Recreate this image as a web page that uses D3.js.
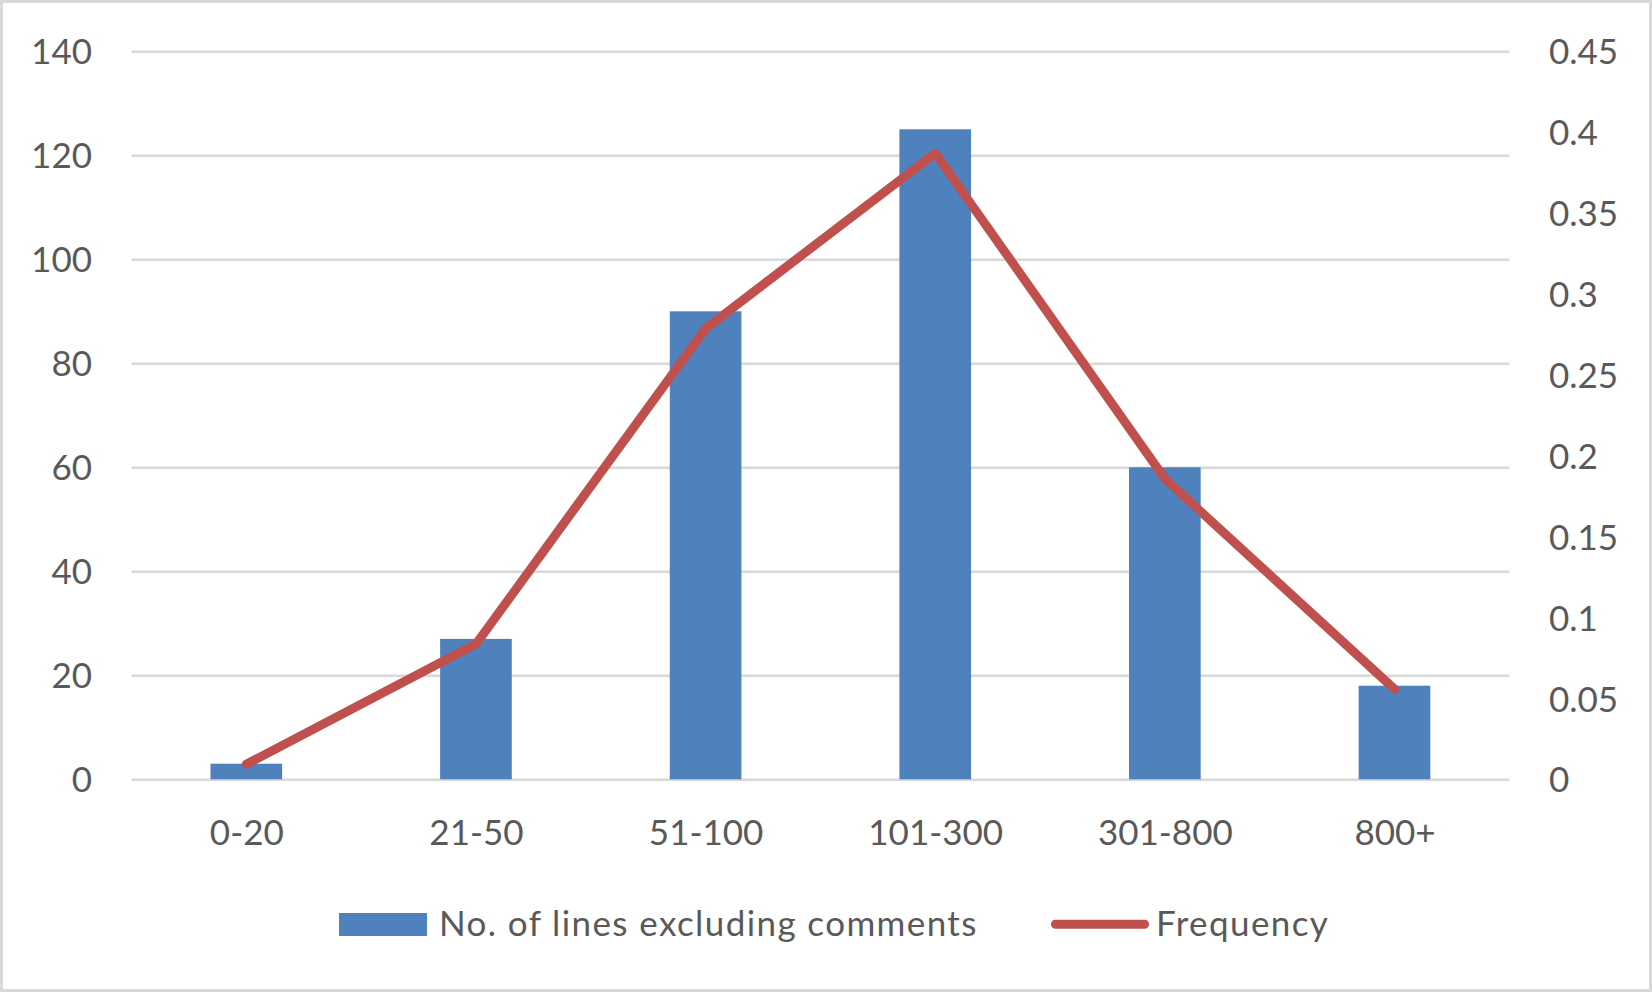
<!DOCTYPE html>
<html>
<head>
<meta charset="utf-8">
<script src="https://cdn.jsdelivr.net/npm/d3@7"></script>
<style>
  html, body { margin: 0; padding: 0; background: #fff; }
  svg { display: block; }
  text { font-family: Lato, "Open Sans", sans-serif; fill: #595959; }
</style>
</head>
<body>
<svg id="chart" width="1652" height="992"></svg>
<script>
const categories = ["0-20", "21-50", "51-100", "101-300", "301-800", "800+"];
const linesExcludingComments = [3, 27, 90, 125, 60, 18];
const frequency = [0.0093, 0.0836, 0.2786, 0.387, 0.1858, 0.0557];
const leftTicks = [0, 20, 40, 60, 80, 100, 120, 140];
const rightTicks = [0, 0.05, 0.1, 0.15, 0.2, 0.25, 0.3, 0.35, 0.4, 0.45];
const seriesNames = ["No. of lines excluding comments", "Frequency"];

const W = 1652, H = 992;
const plot = { left: 131.5, right: 1509.3, top: 51.3, bottom: 779.3 };
const barColor = "#4f81bd", lineColor = "#c0504d", gridColor = "#d9d9d9";
const fontSize = 35;

const svg = d3.select("#chart");

// chart border
svg.append("rect")
  .attr("x", 1.5).attr("y", 1.5)
  .attr("width", W - 3).attr("height", H - 3)
  .attr("fill", "#fff").attr("stroke", gridColor).attr("stroke-width", 3);

const x = d3.scaleBand()
  .domain(categories)
  .range([plot.left, plot.right])
  .paddingInner(0.688)
  .paddingOuter(0.344);

const xCenter = d3.scalePoint()
  .domain(categories)
  .range([plot.left, plot.right])
  .padding(0.5);

const yL = d3.scaleLinear().domain([0, 140]).range([plot.bottom, plot.top]);
const yR = d3.scaleLinear().domain([0, 0.45]).range([plot.bottom, plot.top]);

// gridlines via left axis
const gridG = svg.append("g").attr("transform", `translate(${plot.left},0)`)
  .call(d3.axisLeft(yL).tickValues(leftTicks).tickSize(-(plot.right - plot.left)).tickFormat(""));
gridG.select(".domain").remove();
gridG.selectAll("line").attr("stroke", gridColor).attr("stroke-width", 2.6);

// left axis labels
const leftAxis = svg.append("g").attr("transform", `translate(92,0)`)
  .call(d3.axisLeft(yL).tickValues(leftTicks).tickSize(0).tickPadding(0));
leftAxis.select(".domain").remove();
leftAxis.selectAll("text")
  .attr("font-size", fontSize).attr("font-family", "Lato, 'Open Sans', sans-serif")
  .attr("fill", "#595959").attr("dy", "0.36em");

// right axis labels
const rightAxis = svg.append("g").attr("transform", `translate(1549,0)`)
  .call(d3.axisRight(yR).tickValues(rightTicks).tickSize(0).tickPadding(0)
    .tickFormat(d => String(+d.toFixed(2))));
rightAxis.select(".domain").remove();
rightAxis.selectAll("text")
  .attr("font-size", fontSize).attr("font-family", "Lato, 'Open Sans', sans-serif")
  .attr("fill", "#595959").attr("dy", "0.36em");

// x axis labels
const xAxis = svg.append("g").attr("transform", `translate(0,845)`)
  .call(d3.axisBottom(xCenter).tickSize(0).tickPadding(0));
xAxis.select(".domain").remove();
xAxis.selectAll("text")
  .attr("font-size", fontSize).attr("font-family", "Lato, 'Open Sans', sans-serif")
  .attr("fill", "#595959").attr("dy", 0);

// bars
svg.append("g").selectAll("rect")
  .data(categories)
  .join("rect")
  .attr("x", d => x(d))
  .attr("width", x.bandwidth())
  .attr("y", (d, i) => yL(linesExcludingComments[i]))
  .attr("height", (d, i) => yL(0) - yL(linesExcludingComments[i]))
  .attr("fill", barColor);

// frequency line
const line = d3.line()
  .x((d, i) => xCenter(categories[i]))
  .y(d => yR(d));
svg.append("path")
  .datum(frequency)
  .attr("d", line)
  .attr("fill", "none")
  .attr("stroke", lineColor)
  .attr("stroke-width", 9)
  .attr("stroke-linejoin", "round")
  .attr("stroke-linecap", "round");

// legend
const legend = svg.append("g");
legend.append("rect")
  .attr("x", 339).attr("y", 913).attr("width", 88).attr("height", 23)
  .attr("fill", barColor);
legend.append("text")
  .attr("x", 439).attr("y", 936)
  .attr("font-size", fontSize)
  .attr("letter-spacing", 1.4)
  .text(seriesNames[0]);
legend.append("line")
  .attr("x1", 1055.5).attr("x2", 1144.5)
  .attr("y1", 924.3).attr("y2", 924.3)
  .attr("stroke", lineColor).attr("stroke-width", 9).attr("stroke-linecap", "round");
legend.append("text")
  .attr("x", 1156).attr("y", 936)
  .attr("font-size", fontSize)
  .attr("letter-spacing", 1.4)
  .text(seriesNames[1]);
</script>
</body>
</html>
